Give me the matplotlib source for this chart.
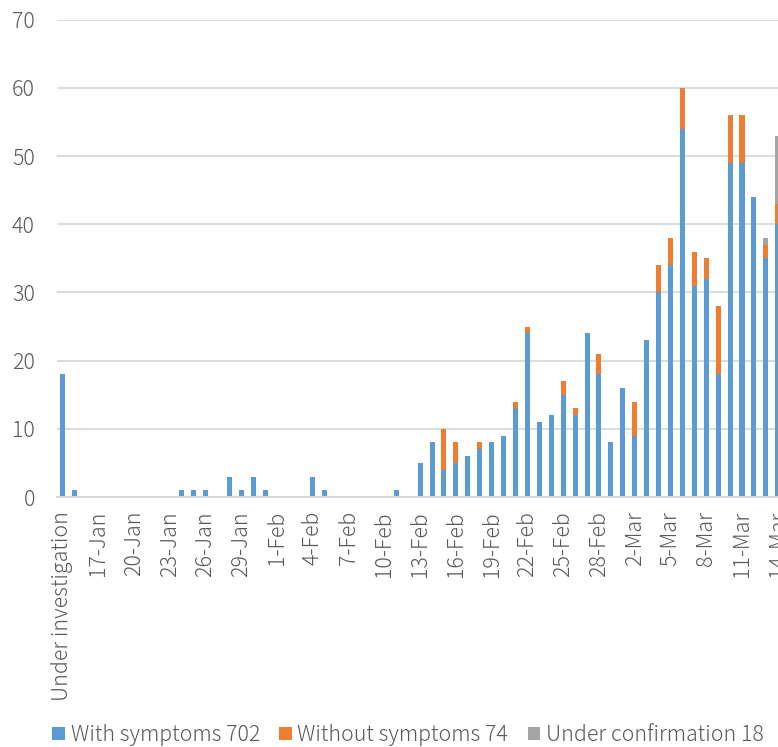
import matplotlib
matplotlib.use("Agg")
import matplotlib.pyplot as plt
from matplotlib.patches import Patch
import numpy as np
import pandas as pd

plt.rcParams['font.family'] = ['Noto Sans CJK JP', 'DejaVu Sans']
plt.rcParams['font.weight'] = 'light'

dates = [d.strftime('%-d-%b') for d in pd.date_range('2020-01-15', '2020-03-14')]
categories = ['Under investigation'] + dates

with_symptoms = [18, 1, 0, 0, 0, 0, 0, 0, 0, 0,
                 1, 1, 1, 0, 3, 1, 3, 1, 0, 0,
                 0, 3, 1, 0, 0, 0, 0, 0, 1, 0,
                 5, 8, 4, 5, 6, 7, 8, 9, 13, 24,
                 11, 12, 15, 12, 24, 18, 8, 16, 9, 23,
                 30, 34, 54, 31, 32, 18, 49, 49, 44, 35,
                 40]
without_symptoms = [0, 0, 0, 0, 0, 0, 0, 0, 0, 0,
                    0, 0, 0, 0, 0, 0, 0, 0, 0, 0,
                    0, 0, 0, 0, 0, 0, 0, 0, 0, 0,
                    0, 0, 6, 3, 0, 1, 0, 0, 1, 1,
                    0, 0, 2, 1, 0, 3, 0, 0, 5, 0,
                    4, 4, 6, 5, 3, 10, 7, 7, 0, 2,
                    3]
under_confirmation = [0] * 59 + [1, 10]

series_labels = ['With symptoms 702', 'Without symptoms 74', 'Under confirmation 18']
colors = ['#5B9BD5', '#ED7D31', '#A5A5A5']
text_color = '#595959'
grid_color = '#D9D9D9'

fig = plt.figure(figsize=(7.78, 7.47), dpi=100)
ax = fig.add_axes([57 / 778, 1 - 497 / 747, 1 - 57 / 778, (497 - 19.7) / 747])

x = np.arange(len(categories))
w = 0.42
a = np.array(with_symptoms)
b = np.array(without_symptoms)
c = np.array(under_confirmation)
ax.bar(x, a, w, color=colors[0], zorder=3)
ax.bar(x, b, w, bottom=a, color=colors[1], zorder=3)
ax.bar(x, c, w, bottom=a + b, color=colors[2], zorder=3)

ax.set_xlim(-0.46, 60.02)
ax.set_ylim(0, 70)
ax.set_yticks(range(0, 71, 10))
ax.yaxis.grid(True, color=grid_color, linewidth=1.3, zorder=0)
ax.set_axisbelow(True)
for s in ['top', 'right', 'left']:
    ax.spines[s].set_visible(False)
ax.spines['bottom'].set_color(grid_color)
ax.spines['bottom'].set_linewidth(1.5)
ax.spines['bottom'].set_zorder(4)

tick_idx = x[::3]
ax.set_xticks(tick_idx)
ax.set_xticklabels([categories[i] for i in tick_idx], rotation=90, ha='center', va='top')
ax.tick_params(axis='x', length=0, pad=10, labelsize=15.4, labelcolor=text_color)
ax.tick_params(axis='y', length=0, pad=16, labelsize=15.4, labelcolor=text_color)

handles = [Patch(facecolor=col, edgecolor='none', label=l) for col, l in zip(colors, series_labels)]
fig.legend(handles=handles, loc='center', bbox_to_anchor=(0.5245, 1 - 735 / 747), ncol=3,
           frameon=False, fontsize=15.4, labelcolor=text_color, handlelength=0.6,
           handleheight=0.6, handletextpad=0.25, columnspacing=0.9, borderpad=0)

fig.savefig('out.png', dpi=100)
